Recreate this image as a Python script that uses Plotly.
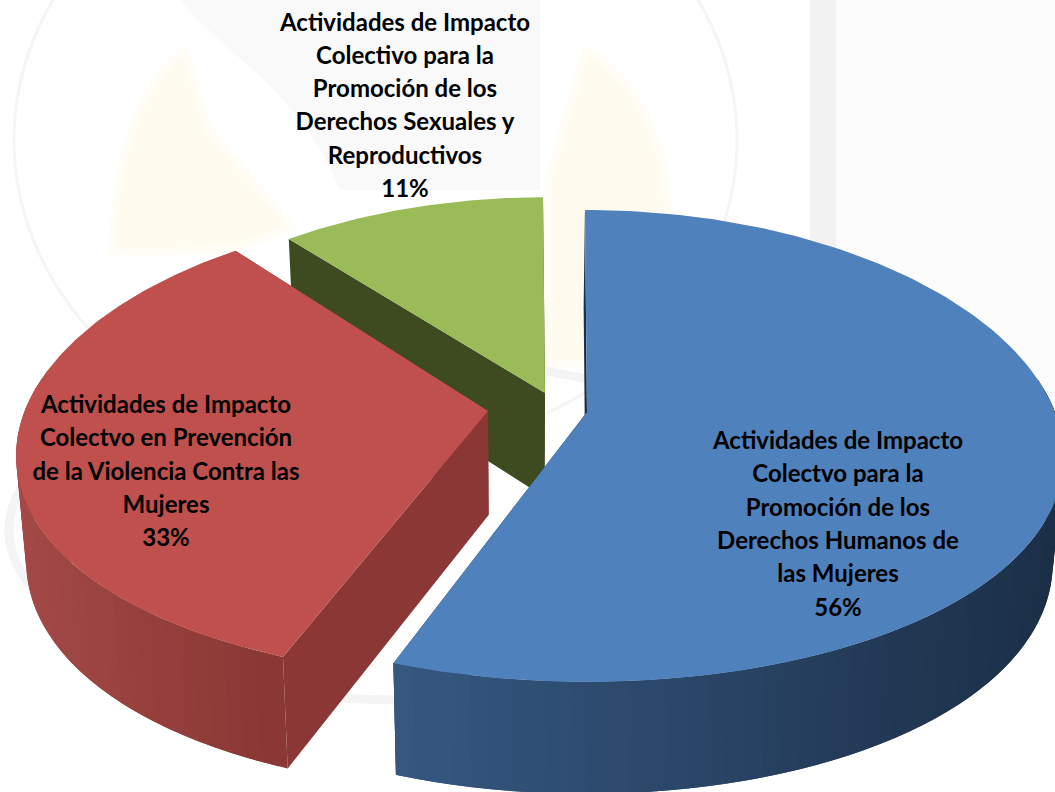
import numpy as np
import plotly.graph_objects as go

# ---- data ----
shares = [55.6, 33.3, 11.1]
label_lines = [
    ["Actividades de Impacto", "Colectvo para la", "Promoción de los", "Derechos Humanos de", "las Mujeres"],
    ["Actividades de Impacto", "Colectvo en Prevención", "de la Violencia Contra las", "Mujeres"],
    ["Actividades de Impacto", "Colectivo para la", "Promoción de los", "Derechos Sexuales y", "Reproductivos"],
]

# ---- styles and layout, in canvas units ----
TOP = ["#4f81bd", "#bf504d", "#9bbb59"]
CUT = ["#1b3048", "#8b3735", "#3e4a20"]
WALL_LEFT = [(53, 87, 128), (163, 74, 71), (62, 74, 32)]
WALL_RIGHT = [(27, 47, 71), (137, 54, 52), (62, 74, 32)]
APEX = [(587, 412), (488, 411), (545, 393)]
SCALE = [1.0, 0.99, 0.97]
TURN_DEG = [0.0, 1.5, 0.0]
LABEL_X = [838, 166, 405]
LABEL_Y0 = [443, 407, 24.5]
LINE_PITCH = 33.3
RX, RY, PERSP, PERSP_X, DEPTH, VANISH_X, SHRINK = 468, 231, 0.144, 0.19, 104, 520, 0.98
START_DEG = -0.3
FONT = "Lato"
YELLOW = "#fffcef"
YELLOW_SOFT = "rgba(255,252,239,0.55)"


def rim(apex, deg, k=1.0):
    t = np.radians(deg)
    X, Y = np.sin(t), np.cos(t)
    return apex[0] + k * RX * X / (1 + PERSP_X * Y), apex[1] - k * RY * Y / (1 + PERSP * Y), Y


def lowered(x, y, Y):
    d = DEPTH / (1 + 0.5 * PERSP * Y)
    return VANISH_X + (x - VANISH_X) * SHRINK, y + d


def poly(xs, ys, color):
    return go.Scatter(x=xs, y=ys, mode="lines", fill="toself", fillcolor=color,
                      line=dict(color=color, width=0), hoverinfo="skip", showlegend=False)


fig = go.Figure()
edges = START_DEG + np.cumsum([0] + [s / sum(shares) * 360 for s in shares])
for i in [2, 1, 0]:
    a0, a1 = edges[i] + TURN_DEG[i], edges[i + 1] + TURN_DEG[i]
    apex, k = APEX[i], SCALE[i]
    ab = lowered(apex[0], apex[1], 0)
    # flat cut faces
    for a in (a0, a1):
        x, y, Y = rim(apex, a, k)
        bx, by = lowered(x, y, Y)
        fig.add_trace(poly([apex[0], x, bx, ab[0], apex[0]], [apex[1], y, by, ab[1], apex[1]], CUT[i]))
    # outer wall: overlapping strips for the shading, front-facing part only
    starts = np.arange(a0, a1, 2.0)
    if i == 1:  # the red wall runs toward the back, so paint from there to the front
        starts = starts[::-1]
    for p in starts:
        if np.cos(np.radians(p)) > 0.15:
            continue
        q = np.linspace(p + 3, p - 1, 9) if i == 1 else np.linspace(p, p + 4, 9)
        q = np.clip(q, a0, a1)
        r = [rim(apex, v, k) for v in q]
        low = [lowered(*v) for v in r]
        mx = np.mean([v[0] for v in r])
        w = np.clip((mx - 395) / 660 if i == 0 else (mx - 15) / 270, 0, 1)
        c = [round(l + (h - l) * w) for l, h in zip(WALL_LEFT[i], WALL_RIGHT[i])]
        xs = [v[0] for v in r] + [v[0] for v in low[::-1]]
        ys = [v[1] for v in r] + [v[1] for v in low[::-1]]
        fig.add_trace(poly(xs + xs[:1], ys + ys[:1], f"rgb({c[0]},{c[1]},{c[2]})"))
    # top face
    arc = np.linspace(a0, a1, 160)
    pts = [rim(apex, a, k) for a in arc]
    fig.add_trace(poly([apex[0]] + [p[0] for p in pts] + [apex[0]],
                       [apex[1]] + [p[1] for p in pts] + [apex[1]], TOP[i]))

# labels, one text row per line
total = sum(shares)
for i, lines in enumerate(label_lines):
    rows = lines + [f"{round(shares[i] / total * 100)}%"]
    fig.add_trace(go.Scatter(
        x=[LABEL_X[i]] * len(rows),
        y=[LABEL_Y0[i] + LINE_PITCH * k for k in range(len(rows))],
        mode="text", text=rows, textposition="middle center",
        textfont=dict(family=FONT, size=24, color="#000000", weight="bold"),
        hoverinfo="skip", showlegend=False))

# faint watermark behind the chart
soft = dict(color=YELLOW_SOFT, width=14)
shapes = [
    dict(type="rect", x0=810, x1=836, y0=0, y1=310, fillcolor="#f2f2f2", line_width=0, layer="below"),
    dict(type="rect", x0=836, x1=1055, y0=0, y1=420, fillcolor="#fcfcfc", line_width=0, layer="below"),
    dict(type="path", path="M 180 0 C 230 60 300 90 340 190 L 540 190 L 540 0 Z",
         fillcolor="#f9f9f9", line_width=0, layer="below"),
    dict(type="path", path="M 183 56 C 135 95 118 180 116 250 L 235 245 L 285 225 L 205 130 Z",
         fillcolor=YELLOW, line=soft, layer="below"),
    dict(type="path", path="M 588 55 C 635 85 662 140 665 215 L 586 215 L 586 360 L 552 360 L 552 180 Z",
         fillcolor=YELLOW, line=soft, layer="below"),
    dict(type="circle", x0=14, x1=737, y0=-170, y1=450, line=dict(color="#f7f4f5", width=3),
         fillcolor="rgba(0,0,0,0)", layer="below"),
    dict(type="circle", x0=9, x1=800, y0=360, y1=700, line=dict(color="#f4f4f4", width=9),
         fillcolor="rgba(0,0,0,0)", layer="below"),
]

fig.update_layout(
    width=1055, height=792, margin=dict(l=0, r=0, t=0, b=0),
    paper_bgcolor="#ffffff", plot_bgcolor="#ffffff", shapes=shapes, showlegend=False,
    xaxis=dict(range=[0, 1055], visible=False, fixedrange=True),
    yaxis=dict(range=[792, 0], visible=False, fixedrange=True),
)
fig.write_html("out.html", config=dict(displayModeBar=False),
               post_script="document.body.style.margin='0';document.documentElement.style.overflow='hidden';")
